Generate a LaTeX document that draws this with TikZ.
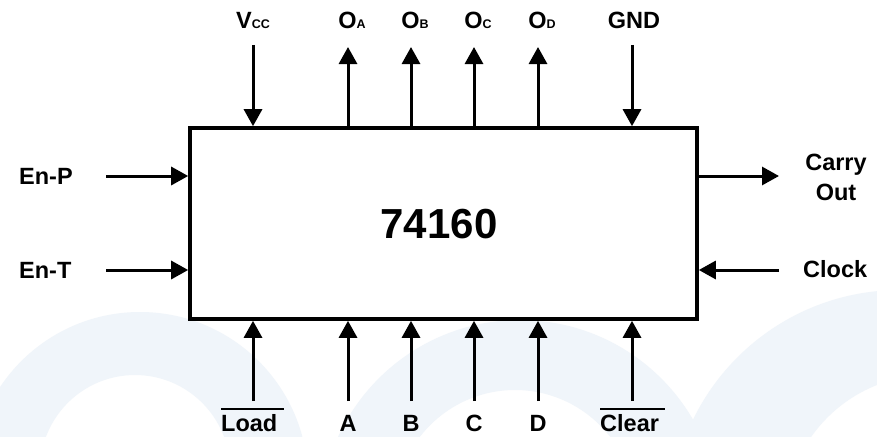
\documentclass[tikz,border=0pt]{standalone}
\usepackage{fontspec}
\setmainfont{Liberation Sans}
\usetikzlibrary{arrows.meta}
\definecolor{wm}{RGB}{240,245,250}
\begin{document}
\begin{tikzpicture}[x=1pt,y=-1pt,
  wire/.style={line width=3pt},
  arr/.style={wire,-{Triangle[length=17pt,width=18pt]}},
  lbl/.style={font=\bfseries\fontsize{23.5}{23.5}\selectfont,inner sep=0pt},
  chip/.style={draw,line width=3.6pt,fill=white,minimum width=507pt,minimum height=191pt,inner sep=0pt},
  bar/.style={line width=2pt}
]
\useasboundingbox (0,0) rectangle (877,436);
\fill[white] (0,0) rectangle (877,436);
% faint watermark
\begin{scope}
\clip (0,0) rectangle (877,436);
\fill[wm,even odd rule] (140,480) circle (168) (135,470) circle (95);
\fill[wm,even odd rule] (520,520) circle (200) (515,510) circle (120);
\fill[wm,even odd rule] (900,520) circle (230) (930,520) circle (145);
\end{scope}

% chip
\node[chip] (chip) at (443.5,223.5) {};
\node[lbl,font=\bfseries\fontsize{42}{42}\selectfont,anchor=base] (name) at (439,238) {74160};

% top pins
\coordinate (vcct) at (253,45);
\coordinate (gndt) at (632,45);
\coordinate (oat) at (348,47);
\coordinate (obt) at (411,47);
\coordinate (oct) at (474,47);
\coordinate (odt) at (538,47);
\draw[arr] (vcct) -- (vcct |- chip.north);
\draw[arr] (gndt) -- (gndt |- chip.north);
\draw[arr] (oat |- chip.north) -- (oat);
\draw[arr] (obt |- chip.north) -- (obt);
\draw[arr] (oct |- chip.north) -- (oct);
\draw[arr] (odt |- chip.north) -- (odt);

\node[lbl,anchor=base] (vcc) at (253,29) {V{\fontsize{12.5}{12.5}\selectfont CC}};
\node[lbl,anchor=base] (oa) at (352,29) {O{\fontsize{12.5}{12.5}\selectfont A}};
\node[lbl,anchor=base] (ob) at (415,29) {O{\fontsize{12.5}{12.5}\selectfont B}};
\node[lbl,anchor=base] (oc) at (478,29) {O{\fontsize{12.5}{12.5}\selectfont C}};
\node[lbl,anchor=base] (od) at (542,29) {O{\fontsize{12.5}{12.5}\selectfont D}};
\node[lbl,anchor=base] (gnd) at (634,29) {GND};

% left pins
\coordinate (ept) at (106,176);
\coordinate (ett) at (106,270);
\draw[arr] (ept) -- (ept -| chip.west);
\draw[arr] (ett) -- (ett -| chip.west);
\node[lbl,anchor=base west] (enp) at (19,184) {En-P};
\node[lbl,anchor=base west] (ent) at (19,278) {En-T};

% right pins
\coordinate (cot) at (779,176);
\coordinate (clkt) at (779,270);
\draw[arr] (cot -| chip.east) -- (cot);
\draw[arr] (clkt) -- (clkt -| chip.east);
\node[lbl,anchor=base] (carry) at (836,170) {Carry};
\node[lbl,anchor=base] (out) at (836,200) {Out};
\node[lbl,anchor=base west] (clock) at (803,277) {Clock};

% bottom pins
\coordinate (ldb) at (253,401);
\coordinate (ab) at (348,401);
\coordinate (bb) at (411,401);
\coordinate (cb) at (474,401);
\coordinate (db) at (538,401);
\coordinate (clrb) at (632,401);
\draw[arr] (ldb) -- (ldb |- chip.south);
\draw[arr] (ab) -- (ab |- chip.south);
\draw[arr] (bb) -- (bb |- chip.south);
\draw[arr] (cb) -- (cb |- chip.south);
\draw[arr] (db) -- (db |- chip.south);
\draw[arr] (clrb) -- (clrb |- chip.south);

\node[lbl,anchor=base west] (load) at (221,431) {Load};
\node[lbl,anchor=base] (a) at (348,431) {A};
\node[lbl,anchor=base] (b) at (411,431) {B};
\node[lbl,anchor=base] (c) at (474,431) {C};
\node[lbl,anchor=base] (d) at (538,431) {D};
\node[lbl,anchor=base west] (clear) at (600,431) {Clear};
\draw[bar] ([yshift=5pt]load.north west) -- ([xshift=6pt,yshift=5pt]load.north east);
\draw[bar] ([yshift=5pt]clear.north west) -- ([xshift=6pt,yshift=5pt]clear.north east);
\end{tikzpicture}
\end{document}
